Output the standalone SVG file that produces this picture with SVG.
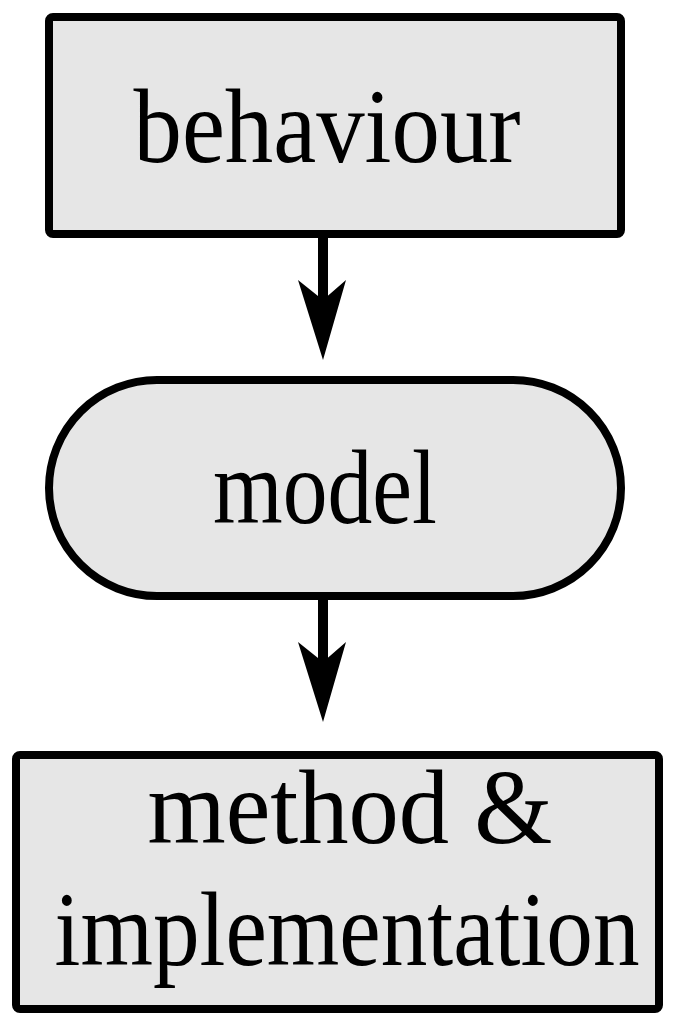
<svg xmlns="http://www.w3.org/2000/svg" width="676" height="1024" viewBox="0 0 676 1024">
<style>
.node{fill:#e6e6e6;stroke:#000;stroke-width:8;stroke-linejoin:round}
.lbl{font-family:"Liberation Serif","Times New Roman",serif;font-size:92px;fill:#000;text-anchor:middle}
.edge{stroke:#000;stroke-width:10;fill:none}
.head{fill:#000;stroke:none}
</style>
<rect width="676" height="1024" fill="#fff"/>
<g id="behaviour">
<rect class="node" x="49" y="17" width="572" height="217" rx="4"/>
<text class="lbl" transform="translate(327,162) scale(1,1.14)" textLength="387" lengthAdjust="spacingAndGlyphs">behaviour</text>
</g>
<g id="model">
<rect class="node" x="49" y="380" width="572" height="216" rx="108"/>
<text class="lbl" transform="translate(325,523) scale(1,1.14)" textLength="224" lengthAdjust="spacingAndGlyphs">model</text>
</g>
<g id="method">
<rect class="node" x="16" y="755" width="643" height="254" rx="4"/>
<text class="lbl" transform="translate(350,843) scale(1,1.14)" textLength="405" lengthAdjust="spacingAndGlyphs">method &amp;</text>
<text class="lbl" transform="translate(347,965) scale(1,1.14)" textLength="585" lengthAdjust="spacingAndGlyphs">implementation</text>
</g>
<g id="connectors">
<line class="edge" x1="323" y1="238" x2="323" y2="300"/>
<polygon class="head" points="323,360 298,280 323,300 346,280"/>
<line class="edge" x1="323" y1="600" x2="323" y2="662"/>
<polygon class="head" points="323,722 298,642 323,662 346,642"/>
</g>
</svg>
